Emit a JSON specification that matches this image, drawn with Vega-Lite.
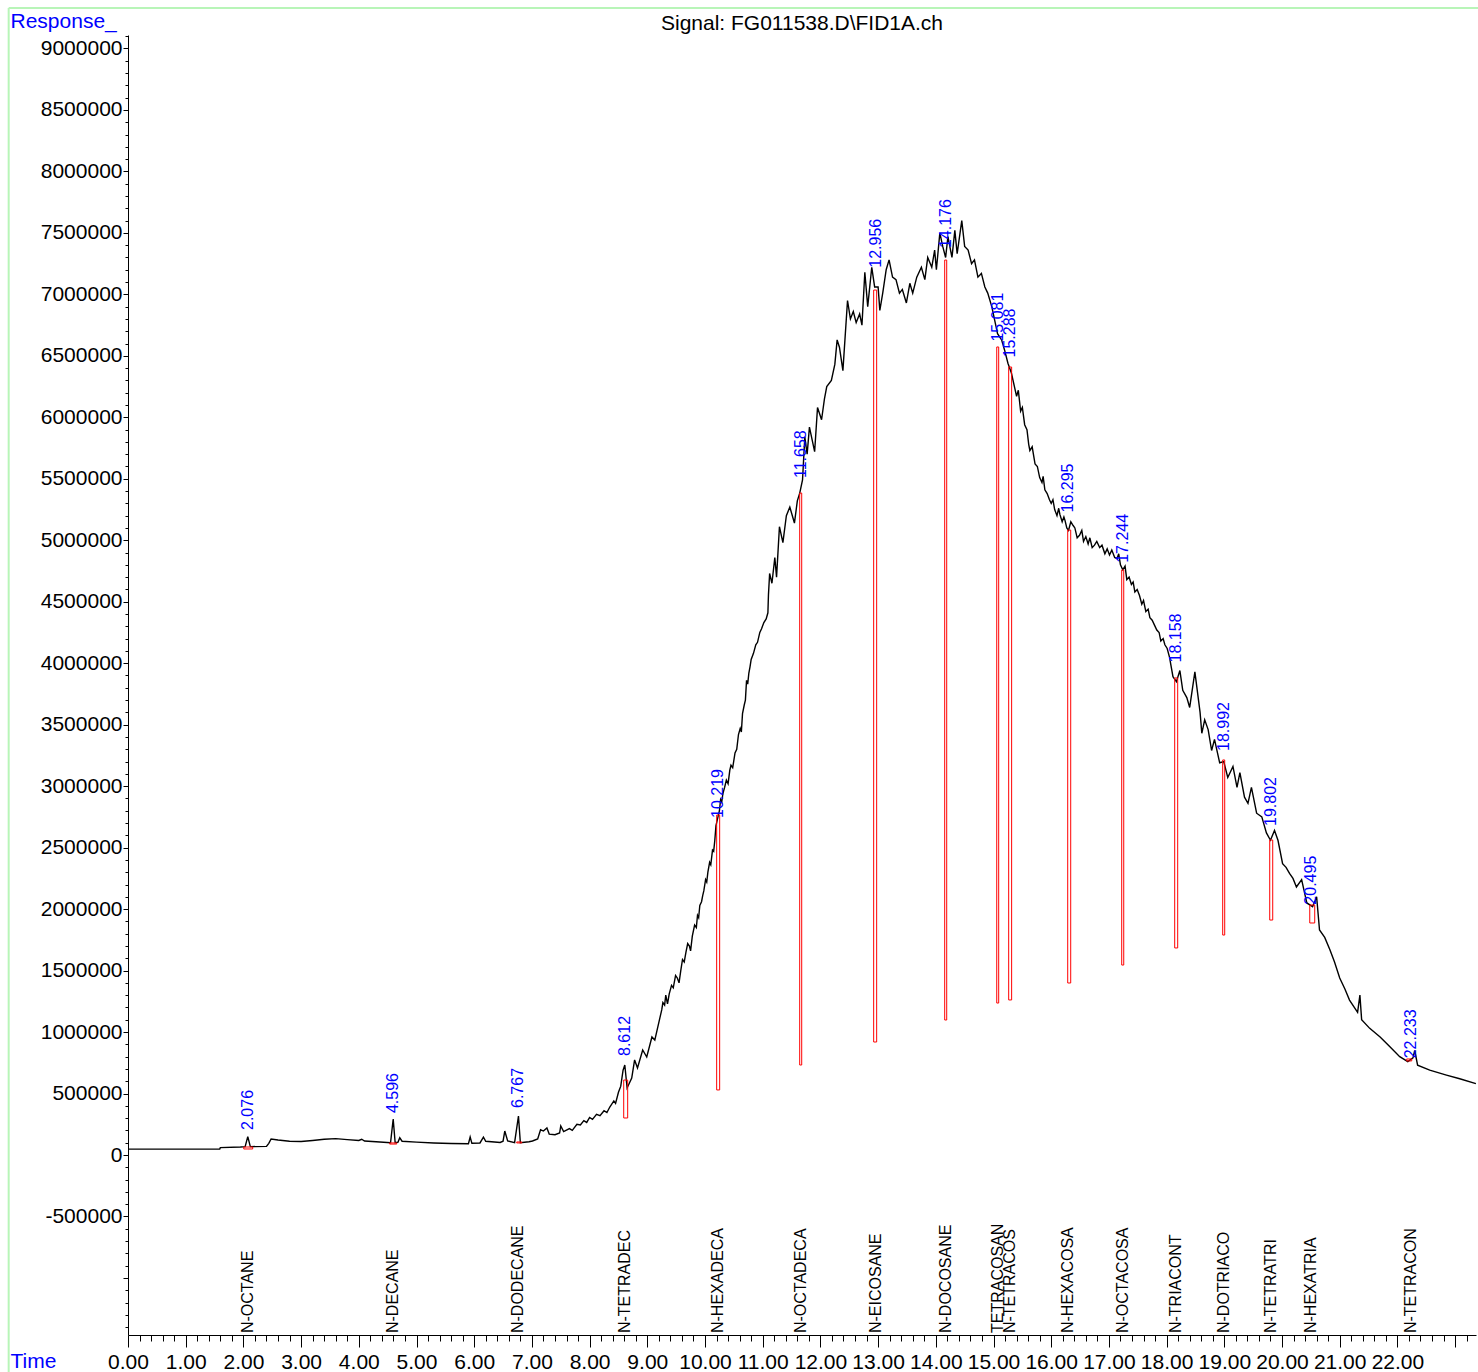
{
  "$schema": "https://vega.github.io/schema/vega-lite/v6.json",
  "width": 1348,
  "height": 1300,
  "autosize": {"type": "none"},
  "padding": {"left": 128, "top": 35, "right": 2, "bottom": 37},
  "background": "white",
  "config": {
    "view": {"stroke": null},
    "font": "Liberation Sans",
    "axis": {"labelOverlap": false, "labelFlush": false, "labelBound": false, "grid": false, "domainColor": "black", "tickColor": "black", "labelColor": "black", "labelFont": "Liberation Sans", "labelFontSize": 21, "titleFont": "Liberation Sans", "titleFontSize": 21, "titleFontWeight": "normal", "titleColor": "#0000ff", "titleAlign": "left", "titleBaseline": "alphabetic", "titleX": -118},
    "axisX": {"tickSize": 12, "labelPadding": 4, "titleY": 32},
    "axisY": {"tickSize": 5, "labelPadding": 1, "titleY": -7.5, "titleAngle": 0}
  },
  "datasets": {
    "signal": [
      {"t":0,"v":48000},{"t":1.59,"v":48000},{"t":1.6,"v":60000},{"t":1.95,"v":65000},{"t":2.03,"v":68000},{"t":2.076,"v":150000},{"t":2.12,"v":68000},{"t":2.4,"v":70000},{"t":2.44,"v":95000},{"t":2.48,"v":130000},{"t":2.6,"v":122000},{"t":2.8,"v":112000},{"t":3.0,"v":110000},{"t":3.2,"v":118000},{"t":3.4,"v":128000},{"t":3.6,"v":133000},{"t":3.8,"v":125000},{"t":4.0,"v":118000},{"t":4.05,"v":128000},{"t":4.1,"v":114000},{"t":4.3,"v":108000},{"t":4.55,"v":100000},{"t":4.596,"v":293000},{"t":4.63,"v":100000},{"t":4.68,"v":105000},{"t":4.71,"v":140000},{"t":4.75,"v":112000},{"t":5.0,"v":105000},{"t":5.3,"v":98000},{"t":5.6,"v":94000},{"t":5.9,"v":92000},{"t":5.93,"v":146000},{"t":5.96,"v":95000},{"t":6.1,"v":98000},{"t":6.16,"v":146000},{"t":6.2,"v":112000},{"t":6.45,"v":102000},{"t":6.5,"v":112000},{"t":6.53,"v":195000},{"t":6.58,"v":115000},{"t":6.7,"v":100000},{"t":6.767,"v":317000},{"t":6.8,"v":100000},{"t":6.95,"v":108000},{"t":7.01,"v":114000},{"t":7.1,"v":130000},{"t":7.15,"v":205000},{"t":7.2,"v":195000},{"t":7.26,"v":220000},{"t":7.3,"v":170000},{"t":7.4,"v":165000},{"t":7.48,"v":179000},{"t":7.5,"v":236000},{"t":7.55,"v":190000},{"t":7.65,"v":215000},{"t":7.7,"v":200000},{"t":7.78,"v":250000},{"t":7.84,"v":244000},{"t":7.9,"v":280000},{"t":7.95,"v":265000},{"t":8.0,"v":305000},{"t":8.05,"v":290000},{"t":8.12,"v":330000},{"t":8.18,"v":320000},{"t":8.25,"v":360000},{"t":8.3,"v":345000},{"t":8.35,"v":390000},{"t":8.42,"v":440000},{"t":8.45,"v":420000},{"t":8.5,"v":510000},{"t":8.54,"v":560000},{"t":8.58,"v":690000},{"t":8.61,"v":732000},{"t":8.65,"v":545000},{"t":8.73,"v":626000},{"t":8.78,"v":773000},{"t":8.83,"v":708000},{"t":8.92,"v":854000},{"t":8.99,"v":797000},{"t":9.08,"v":960000},{"t":9.13,"v":935000},{"t":9.22,"v":1120000},{"t":9.25,"v":1180000},{"t":9.27,"v":1240000},{"t":9.3,"v":1220000},{"t":9.32,"v":1300000},{"t":9.35,"v":1230000},{"t":9.38,"v":1310000},{"t":9.42,"v":1380000},{"t":9.45,"v":1360000},{"t":9.49,"v":1460000},{"t":9.52,"v":1440000},{"t":9.55,"v":1400000},{"t":9.58,"v":1500000},{"t":9.61,"v":1590000},{"t":9.64,"v":1570000},{"t":9.67,"v":1650000},{"t":9.7,"v":1720000},{"t":9.73,"v":1700000},{"t":9.75,"v":1660000},{"t":9.78,"v":1780000},{"t":9.82,"v":1870000},{"t":9.85,"v":1850000},{"t":9.87,"v":1950000},{"t":9.89,"v":1930000},{"t":9.91,"v":2030000},{"t":9.94,"v":2060000},{"t":9.96,"v":2110000},{"t":9.98,"v":2150000},{"t":10.01,"v":2240000},{"t":10.03,"v":2220000},{"t":10.05,"v":2300000},{"t":10.08,"v":2380000},{"t":10.1,"v":2360000},{"t":10.13,"v":2480000},{"t":10.15,"v":2470000},{"t":10.17,"v":2560000},{"t":10.19,"v":2680000},{"t":10.22,"v":2740000},{"t":10.25,"v":2800000},{"t":10.27,"v":2890000},{"t":10.29,"v":2870000},{"t":10.31,"v":2940000},{"t":10.34,"v":2990000},{"t":10.37,"v":3050000},{"t":10.4,"v":3020000},{"t":10.43,"v":3130000},{"t":10.45,"v":3170000},{"t":10.48,"v":3150000},{"t":10.52,"v":3270000},{"t":10.55,"v":3300000},{"t":10.58,"v":3420000},{"t":10.61,"v":3470000},{"t":10.63,"v":3440000},{"t":10.65,"v":3590000},{"t":10.68,"v":3660000},{"t":10.7,"v":3700000},{"t":10.72,"v":3860000},{"t":10.74,"v":3830000},{"t":10.76,"v":3920000},{"t":10.78,"v":3970000},{"t":10.8,"v":4030000},{"t":10.84,"v":4080000},{"t":10.88,"v":4150000},{"t":10.91,"v":4170000},{"t":10.95,"v":4250000},{"t":10.98,"v":4280000},{"t":11.02,"v":4330000},{"t":11.06,"v":4360000},{"t":11.09,"v":4410000},{"t":11.1,"v":4560000},{"t":11.12,"v":4730000},{"t":11.16,"v":4650000},{"t":11.21,"v":4860000},{"t":11.24,"v":4700000},{"t":11.29,"v":5110000},{"t":11.35,"v":4980000},{"t":11.41,"v":5200000},{"t":11.47,"v":5270000},{"t":11.55,"v":5140000},{"t":11.6,"v":5320000},{"t":11.64,"v":5380000},{"t":11.69,"v":5490000},{"t":11.73,"v":5840000},{"t":11.77,"v":5700000},{"t":11.81,"v":5920000},{"t":11.9,"v":5720000},{"t":11.95,"v":6080000},{"t":12.02,"v":5980000},{"t":12.07,"v":6150000},{"t":12.11,"v":6250000},{"t":12.19,"v":6300000},{"t":12.25,"v":6430000},{"t":12.29,"v":6630000},{"t":12.33,"v":6570000},{"t":12.39,"v":6380000},{"t":12.47,"v":6950000},{"t":12.52,"v":6800000},{"t":12.57,"v":6860000},{"t":12.62,"v":6770000},{"t":12.68,"v":6840000},{"t":12.72,"v":6750000},{"t":12.77,"v":7180000},{"t":12.82,"v":6900000},{"t":12.89,"v":7220000},{"t":12.94,"v":7060000},{"t":13.0,"v":7060000},{"t":13.03,"v":6870000},{"t":13.08,"v":7010000},{"t":13.14,"v":7200000},{"t":13.19,"v":7280000},{"t":13.25,"v":7140000},{"t":13.31,"v":7120000},{"t":13.37,"v":7010000},{"t":13.42,"v":7040000},{"t":13.49,"v":6930000},{"t":13.55,"v":7090000},{"t":13.6,"v":7010000},{"t":13.67,"v":7140000},{"t":13.75,"v":7220000},{"t":13.81,"v":7120000},{"t":13.86,"v":7300000},{"t":13.93,"v":7220000},{"t":13.98,"v":7360000},{"t":14.01,"v":7200000},{"t":14.07,"v":7500000},{"t":14.12,"v":7390000},{"t":14.17,"v":7300000},{"t":14.21,"v":7470000},{"t":14.28,"v":7300000},{"t":14.33,"v":7520000},{"t":14.37,"v":7330000},{"t":14.45,"v":7600000},{"t":14.5,"v":7390000},{"t":14.56,"v":7360000},{"t":14.62,"v":7250000},{"t":14.67,"v":7280000},{"t":14.73,"v":7140000},{"t":14.79,"v":7170000},{"t":14.85,"v":7060000},{"t":14.9,"v":7010000},{"t":14.97,"v":6900000},{"t":15.02,"v":6790000},{"t":15.07,"v":6680000},{"t":15.14,"v":6630000},{"t":15.19,"v":6550000},{"t":15.25,"v":6440000},{"t":15.31,"v":6360000},{"t":15.4,"v":6170000},{"t":15.43,"v":6220000},{"t":15.47,"v":6050000},{"t":15.5,"v":6080000},{"t":15.54,"v":5940000},{"t":15.58,"v":5900000},{"t":15.61,"v":5780000},{"t":15.63,"v":5730000},{"t":15.67,"v":5760000},{"t":15.72,"v":5620000},{"t":15.76,"v":5600000},{"t":15.8,"v":5510000},{"t":15.84,"v":5470000},{"t":15.86,"v":5520000},{"t":15.89,"v":5410000},{"t":15.93,"v":5380000},{"t":15.97,"v":5330000},{"t":16.0,"v":5300000},{"t":16.03,"v":5330000},{"t":16.06,"v":5250000},{"t":16.1,"v":5200000},{"t":16.13,"v":5260000},{"t":16.15,"v":5210000},{"t":16.19,"v":5150000},{"t":16.22,"v":5190000},{"t":16.24,"v":5160000},{"t":16.27,"v":5100000},{"t":16.3,"v":5080000},{"t":16.34,"v":5150000},{"t":16.38,"v":5120000},{"t":16.41,"v":5100000},{"t":16.45,"v":5020000},{"t":16.49,"v":5040000},{"t":16.53,"v":5080000},{"t":16.56,"v":4990000},{"t":16.6,"v":5030000},{"t":16.64,"v":4970000},{"t":16.67,"v":5020000},{"t":16.71,"v":4940000},{"t":16.75,"v":4960000},{"t":16.79,"v":4990000},{"t":16.84,"v":4940000},{"t":16.88,"v":4960000},{"t":16.93,"v":4890000},{"t":16.97,"v":4930000},{"t":17.01,"v":4880000},{"t":17.05,"v":4920000},{"t":17.1,"v":4860000},{"t":17.14,"v":4850000},{"t":17.17,"v":4890000},{"t":17.2,"v":4800000},{"t":17.24,"v":4760000},{"t":17.28,"v":4790000},{"t":17.31,"v":4680000},{"t":17.35,"v":4700000},{"t":17.39,"v":4640000},{"t":17.42,"v":4660000},{"t":17.45,"v":4580000},{"t":17.49,"v":4600000},{"t":17.53,"v":4550000},{"t":17.57,"v":4480000},{"t":17.6,"v":4510000},{"t":17.64,"v":4420000},{"t":17.68,"v":4440000},{"t":17.71,"v":4370000},{"t":17.75,"v":4350000},{"t":17.79,"v":4310000},{"t":17.83,"v":4270000},{"t":17.87,"v":4250000},{"t":17.9,"v":4180000},{"t":17.94,"v":4200000},{"t":17.97,"v":4150000},{"t":18.01,"v":4120000},{"t":18.05,"v":4050000},{"t":18.11,"v":3890000},{"t":18.17,"v":3850000},{"t":18.23,"v":3940000},{"t":18.28,"v":3780000},{"t":18.35,"v":3720000},{"t":18.4,"v":3640000},{"t":18.49,"v":3930000},{"t":18.58,"v":3600000},{"t":18.61,"v":3430000},{"t":18.66,"v":3540000},{"t":18.72,"v":3460000},{"t":18.78,"v":3290000},{"t":18.83,"v":3380000},{"t":18.92,"v":3190000},{"t":18.99,"v":3200000},{"t":19.06,"v":3070000},{"t":19.15,"v":3160000},{"t":19.22,"v":2990000},{"t":19.27,"v":3110000},{"t":19.35,"v":2910000},{"t":19.41,"v":2860000},{"t":19.47,"v":2990000},{"t":19.56,"v":2780000},{"t":19.65,"v":2750000},{"t":19.73,"v":2620000},{"t":19.8,"v":2560000},{"t":19.87,"v":2640000},{"t":19.93,"v":2560000},{"t":20.01,"v":2370000},{"t":20.07,"v":2340000},{"t":20.13,"v":2290000},{"t":20.19,"v":2250000},{"t":20.25,"v":2180000},{"t":20.34,"v":2240000},{"t":20.43,"v":2050000},{"t":20.53,"v":2020000},{"t":20.6,"v":2100000},{"t":20.65,"v":1830000},{"t":20.74,"v":1770000},{"t":20.83,"v":1670000},{"t":20.91,"v":1570000},{"t":21.0,"v":1440000},{"t":21.09,"v":1350000},{"t":21.17,"v":1260000},{"t":21.31,"v":1160000},{"t":21.35,"v":1300000},{"t":21.38,"v":1100000},{"t":21.52,"v":1030000},{"t":21.7,"v":960000},{"t":21.87,"v":880000},{"t":22.04,"v":800000},{"t":22.18,"v":760000},{"t":22.27,"v":790000},{"t":22.3,"v":850000},{"t":22.35,"v":730000},{"t":22.56,"v":690000},{"t":22.85,"v":650000},{"t":23.08,"v":620000},{"t":23.36,"v":580000}
    ],
    "peaks": [
      {"rt":2.076,"name":"N-OCTANE","apex":187000,"t0":2.006,"t1":2.161,"top":65000,"base":49000},
      {"rt":4.596,"name":"N-DECANE","apex":325000,"t0":4.534,"t1":4.657,"top":98000,"base":89000},
      {"rt":6.767,"name":"N-DODECANE","apex":366000,"t0":6.737,"t1":6.823,"top":106000,"base":98000},
      {"rt":8.612,"name":"N-TETRADEC","apex":789000,"t0":8.591,"t1":8.66,"top":610000,"base":301000},
      {"rt":10.219,"name":"N-HEXADECA","apex":2725000,"t0":10.202,"t1":10.254,"top":2765000,"base":529000},
      {"rt":11.658,"name":"N-OCTADECA","apex":5490000,"t0":11.641,"t1":11.676,"top":5384000,"base":732000},
      {"rt":12.956,"name":"N-EICOSANE","apex":7200000,"t0":12.923,"t1":12.975,"top":7035000,"base":919000},
      {"rt":14.176,"name":"N-DOCOSANE","apex":7360000,"t0":14.154,"t1":14.189,"top":7279000,"base":1098000},
      {"rt":15.081,"name":"TETRACOSAN","apex":6600000,"t0":15.056,"t1":15.09,"top":6572000,"base":1236000},
      {"rt":15.288,"name":"N-TETRACOS","apex":6470000,"t0":15.263,"t1":15.314,"top":6409000,"base":1261000},
      {"rt":16.295,"name":"N-HEXACOSA","apex":5210000,"t0":16.286,"t1":16.338,"top":5083000,"base":1399000},
      {"rt":17.244,"name":"N-OCTACOSA","apex":4800000,"t0":17.222,"t1":17.257,"top":4758000,"base":1545000},
      {"rt":18.158,"name":"N-TRIACONT","apex":3990000,"t0":18.14,"t1":18.192,"top":3880000,"base":1684000},
      {"rt":18.992,"name":"N-DOTRIACO","apex":3270000,"t0":18.972,"t1":19.007,"top":3213000,"base":1789000},
      {"rt":19.802,"name":"N-TETRATRI","apex":2660000,"t0":19.787,"t1":19.839,"top":2562000,"base":1911000},
      {"rt":20.495,"name":"N-HEXATRIA","apex":2020000,"t0":20.481,"t1":20.567,"top":2033000,"base":1887000},
      {"rt":22.233,"name":"N-TETRACON","apex":770000,"t0":22.161,"t1":22.248,"top":781000,"base":765000}
    ]
  },
  "layer": [
    {
      "data": {"values": [{}]},
      "mark": {"type": "rule", "color": "#b8f5b8", "strokeWidth": 2, "clip": false},
      "encoding": {
        "x": {"datum": -2.068, "type": "quantitative", "scale": {"domain": [0, 23.362], "nice": false, "zero": false},
          "axis": {"values": [0,0.2,0.4,0.6,0.8,1,1.2,1.4,1.6,1.8,2,2.2,2.4,2.6,2.8,3,3.2,3.4,3.6,3.8,4,4.2,4.4,4.6,4.8,5,5.2,5.4,5.6,5.8,6,6.2,6.4,6.6,6.8,7,7.2,7.4,7.6,7.8,8,8.2,8.4,8.6,8.8,9,9.2,9.4,9.6,9.8,10,10.2,10.4,10.6,10.8,11,11.2,11.4,11.6,11.8,12,12.2,12.4,12.6,12.8,13,13.2,13.4,13.6,13.8,14,14.2,14.4,14.6,14.8,15,15.2,15.4,15.6,15.8,16,16.2,16.4,16.6,16.8,17,17.2,17.4,17.6,17.8,18,18.2,18.4,18.6,18.8,19,19.2,19.4,19.6,19.8,20,20.2,20.4,20.6,20.8,21,21.2,21.4,21.6,21.8,22,22.2,22.4,22.6,22.8,23,23.2], "labelExpr": "abs(datum.value - round(datum.value)) < 0.01 && datum.value < 22.5 ? format(datum.value, '.2f') : ''", "tickDash": {"condition": {"test": "abs(datum.value - round(datum.value)) < 0.01", "value": []}, "value": [6, 40]}, "labelOverlap": false, "title": "Time"}},
        "x2": {"datum": 23.5},
        "y": {"datum": 9329000, "type": "quantitative", "scale": {"domain": [-1464000, 9109400], "nice": false, "zero": false},
          "axis": {"values": [-1400000,-1300000,-1200000,-1100000,-1000000,-900000,-800000,-700000,-600000,-500000,-400000,-300000,-200000,-100000,0,100000,200000,300000,400000,500000,600000,700000,800000,900000,1000000,1100000,1200000,1300000,1400000,1500000,1600000,1700000,1800000,1900000,2000000,2100000,2200000,2300000,2400000,2500000,2600000,2700000,2800000,2900000,3000000,3100000,3200000,3300000,3400000,3500000,3600000,3700000,3800000,3900000,4000000,4100000,4200000,4300000,4400000,4500000,4600000,4700000,4800000,4900000,5000000,5100000,5200000,5300000,5400000,5500000,5600000,5700000,5800000,5900000,6000000,6100000,6200000,6300000,6400000,6500000,6600000,6700000,6800000,6900000,7000000,7100000,7200000,7300000,7400000,7500000,7600000,7700000,7800000,7900000,8000000,8100000,8200000,8300000,8400000,8500000,8600000,8700000,8800000,8900000,9000000,9100000], "labelExpr": "datum.value % 500000 === 0 && datum.value >= -500000 ? '' + datum.value : ''", "tickDash": {"condition": {"test": "datum.value % 500000 === 0", "value": []}, "value": [3, 40]}, "labelOverlap": false, "title": "Response_"}}
      }
    },
    {
      "data": {"values": [{}]},
      "mark": {"type": "rule", "color": "#b8f5b8", "strokeWidth": 2, "clip": false},
      "encoding": {
        "x": {"datum": -2.068, "type": "quantitative", "scale": {"domain": [0, 23.362], "nice": false, "zero": false},
          "axis": {"values": [0,0.2,0.4,0.6,0.8,1,1.2,1.4,1.6,1.8,2,2.2,2.4,2.6,2.8,3,3.2,3.4,3.6,3.8,4,4.2,4.4,4.6,4.8,5,5.2,5.4,5.6,5.8,6,6.2,6.4,6.6,6.8,7,7.2,7.4,7.6,7.8,8,8.2,8.4,8.6,8.8,9,9.2,9.4,9.6,9.8,10,10.2,10.4,10.6,10.8,11,11.2,11.4,11.6,11.8,12,12.2,12.4,12.6,12.8,13,13.2,13.4,13.6,13.8,14,14.2,14.4,14.6,14.8,15,15.2,15.4,15.6,15.8,16,16.2,16.4,16.6,16.8,17,17.2,17.4,17.6,17.8,18,18.2,18.4,18.6,18.8,19,19.2,19.4,19.6,19.8,20,20.2,20.4,20.6,20.8,21,21.2,21.4,21.6,21.8,22,22.2,22.4,22.6,22.8,23,23.2], "labelExpr": "abs(datum.value - round(datum.value)) < 0.01 && datum.value < 22.5 ? format(datum.value, '.2f') : ''", "tickDash": {"condition": {"test": "abs(datum.value - round(datum.value)) < 0.01", "value": []}, "value": [6, 40]}, "labelOverlap": false, "title": "Time"}},
        "y": {"datum": 9329000, "type": "quantitative", "scale": {"domain": [-1464000, 9109400], "nice": false, "zero": false},
          "axis": {"values": [-1400000,-1300000,-1200000,-1100000,-1000000,-900000,-800000,-700000,-600000,-500000,-400000,-300000,-200000,-100000,0,100000,200000,300000,400000,500000,600000,700000,800000,900000,1000000,1100000,1200000,1300000,1400000,1500000,1600000,1700000,1800000,1900000,2000000,2100000,2200000,2300000,2400000,2500000,2600000,2700000,2800000,2900000,3000000,3100000,3200000,3300000,3400000,3500000,3600000,3700000,3800000,3900000,4000000,4100000,4200000,4300000,4400000,4500000,4600000,4700000,4800000,4900000,5000000,5100000,5200000,5300000,5400000,5500000,5600000,5700000,5800000,5900000,6000000,6100000,6200000,6300000,6400000,6500000,6600000,6700000,6800000,6900000,7000000,7100000,7200000,7300000,7400000,7500000,7600000,7700000,7800000,7900000,8000000,8100000,8200000,8300000,8400000,8500000,8600000,8700000,8800000,8900000,9000000,9100000], "labelExpr": "datum.value % 500000 === 0 && datum.value >= -500000 ? '' + datum.value : ''", "tickDash": {"condition": {"test": "datum.value % 500000 === 0", "value": []}, "value": [3, 40]}, "labelOverlap": false, "title": "Response_"}},
        "y2": {"datum": -1800000}
      }
    },
    {
      "data": {"values": [{}]},
      "mark": {"type": "text", "align": "center", "baseline": "alphabetic", "fontSize": 21, "color": "black", "font": "Liberation Sans", "clip": false},
      "encoding": {
        "x": {"datum": 11.681, "type": "quantitative", "scale": {"domain": [0, 23.362], "nice": false, "zero": false},
          "axis": {"values": [0,0.2,0.4,0.6,0.8,1,1.2,1.4,1.6,1.8,2,2.2,2.4,2.6,2.8,3,3.2,3.4,3.6,3.8,4,4.2,4.4,4.6,4.8,5,5.2,5.4,5.6,5.8,6,6.2,6.4,6.6,6.8,7,7.2,7.4,7.6,7.8,8,8.2,8.4,8.6,8.8,9,9.2,9.4,9.6,9.8,10,10.2,10.4,10.6,10.8,11,11.2,11.4,11.6,11.8,12,12.2,12.4,12.6,12.8,13,13.2,13.4,13.6,13.8,14,14.2,14.4,14.6,14.8,15,15.2,15.4,15.6,15.8,16,16.2,16.4,16.6,16.8,17,17.2,17.4,17.6,17.8,18,18.2,18.4,18.6,18.8,19,19.2,19.4,19.6,19.8,20,20.2,20.4,20.6,20.8,21,21.2,21.4,21.6,21.8,22,22.2,22.4,22.6,22.8,23,23.2], "labelExpr": "abs(datum.value - round(datum.value)) < 0.01 && datum.value < 22.5 ? format(datum.value, '.2f') : ''", "tickDash": {"condition": {"test": "abs(datum.value - round(datum.value)) < 0.01", "value": []}, "value": [6, 40]}, "labelOverlap": false, "title": "Time"}},
        "y": {"datum": 9150000, "type": "quantitative", "scale": {"domain": [-1464000, 9109400], "nice": false, "zero": false},
          "axis": {"values": [-1400000,-1300000,-1200000,-1100000,-1000000,-900000,-800000,-700000,-600000,-500000,-400000,-300000,-200000,-100000,0,100000,200000,300000,400000,500000,600000,700000,800000,900000,1000000,1100000,1200000,1300000,1400000,1500000,1600000,1700000,1800000,1900000,2000000,2100000,2200000,2300000,2400000,2500000,2600000,2700000,2800000,2900000,3000000,3100000,3200000,3300000,3400000,3500000,3600000,3700000,3800000,3900000,4000000,4100000,4200000,4300000,4400000,4500000,4600000,4700000,4800000,4900000,5000000,5100000,5200000,5300000,5400000,5500000,5600000,5700000,5800000,5900000,6000000,6100000,6200000,6300000,6400000,6500000,6600000,6700000,6800000,6900000,7000000,7100000,7200000,7300000,7400000,7500000,7600000,7700000,7800000,7900000,8000000,8100000,8200000,8300000,8400000,8500000,8600000,8700000,8800000,8900000,9000000,9100000], "labelExpr": "datum.value % 500000 === 0 && datum.value >= -500000 ? '' + datum.value : ''", "tickDash": {"condition": {"test": "datum.value % 500000 === 0", "value": []}, "value": [3, 40]}, "labelOverlap": false, "title": "Response_"}},
        "text": {"value": "Signal: FG011538.D\\FID1A.ch"}
      }
    },
    {
      "data": {"name": "signal"},
      "mark": {"type": "line", "color": "black", "strokeWidth": 1.4},
      "encoding": {
        "x": {"field": "t", "type": "quantitative", "scale": {"domain": [0, 23.362], "nice": false, "zero": false},
          "axis": {"values": [0,0.2,0.4,0.6,0.8,1,1.2,1.4,1.6,1.8,2,2.2,2.4,2.6,2.8,3,3.2,3.4,3.6,3.8,4,4.2,4.4,4.6,4.8,5,5.2,5.4,5.6,5.8,6,6.2,6.4,6.6,6.8,7,7.2,7.4,7.6,7.8,8,8.2,8.4,8.6,8.8,9,9.2,9.4,9.6,9.8,10,10.2,10.4,10.6,10.8,11,11.2,11.4,11.6,11.8,12,12.2,12.4,12.6,12.8,13,13.2,13.4,13.6,13.8,14,14.2,14.4,14.6,14.8,15,15.2,15.4,15.6,15.8,16,16.2,16.4,16.6,16.8,17,17.2,17.4,17.6,17.8,18,18.2,18.4,18.6,18.8,19,19.2,19.4,19.6,19.8,20,20.2,20.4,20.6,20.8,21,21.2,21.4,21.6,21.8,22,22.2,22.4,22.6,22.8,23,23.2], "labelExpr": "abs(datum.value - round(datum.value)) < 0.01 && datum.value < 22.5 ? format(datum.value, '.2f') : ''", "tickDash": {"condition": {"test": "abs(datum.value - round(datum.value)) < 0.01", "value": []}, "value": [6, 40]}, "labelOverlap": false, "title": "Time"}},
        "y": {"field": "v", "type": "quantitative", "scale": {"domain": [-1464000, 9109400], "nice": false, "zero": false},
          "axis": {"values": [-1400000,-1300000,-1200000,-1100000,-1000000,-900000,-800000,-700000,-600000,-500000,-400000,-300000,-200000,-100000,0,100000,200000,300000,400000,500000,600000,700000,800000,900000,1000000,1100000,1200000,1300000,1400000,1500000,1600000,1700000,1800000,1900000,2000000,2100000,2200000,2300000,2400000,2500000,2600000,2700000,2800000,2900000,3000000,3100000,3200000,3300000,3400000,3500000,3600000,3700000,3800000,3900000,4000000,4100000,4200000,4300000,4400000,4500000,4600000,4700000,4800000,4900000,5000000,5100000,5200000,5300000,5400000,5500000,5600000,5700000,5800000,5900000,6000000,6100000,6200000,6300000,6400000,6500000,6600000,6700000,6800000,6900000,7000000,7100000,7200000,7300000,7400000,7500000,7600000,7700000,7800000,7900000,8000000,8100000,8200000,8300000,8400000,8500000,8600000,8700000,8800000,8900000,9000000,9100000], "labelExpr": "datum.value % 500000 === 0 && datum.value >= -500000 ? '' + datum.value : ''", "tickDash": {"condition": {"test": "datum.value % 500000 === 0", "value": []}, "value": [3, 40]}, "labelOverlap": false, "title": "Response_"}}
      }
    },
    {
      "data": {"name": "peaks"},
      "mark": {"type": "rect", "filled": false, "color": "#ff0000", "strokeWidth": 1},
      "encoding": {
        "x": {"field": "t0", "type": "quantitative", "scale": {"domain": [0, 23.362], "nice": false, "zero": false},
          "axis": {"values": [0,0.2,0.4,0.6,0.8,1,1.2,1.4,1.6,1.8,2,2.2,2.4,2.6,2.8,3,3.2,3.4,3.6,3.8,4,4.2,4.4,4.6,4.8,5,5.2,5.4,5.6,5.8,6,6.2,6.4,6.6,6.8,7,7.2,7.4,7.6,7.8,8,8.2,8.4,8.6,8.8,9,9.2,9.4,9.6,9.8,10,10.2,10.4,10.6,10.8,11,11.2,11.4,11.6,11.8,12,12.2,12.4,12.6,12.8,13,13.2,13.4,13.6,13.8,14,14.2,14.4,14.6,14.8,15,15.2,15.4,15.6,15.8,16,16.2,16.4,16.6,16.8,17,17.2,17.4,17.6,17.8,18,18.2,18.4,18.6,18.8,19,19.2,19.4,19.6,19.8,20,20.2,20.4,20.6,20.8,21,21.2,21.4,21.6,21.8,22,22.2,22.4,22.6,22.8,23,23.2], "labelExpr": "abs(datum.value - round(datum.value)) < 0.01 && datum.value < 22.5 ? format(datum.value, '.2f') : ''", "tickDash": {"condition": {"test": "abs(datum.value - round(datum.value)) < 0.01", "value": []}, "value": [6, 40]}, "labelOverlap": false, "title": "Time"}},
        "x2": {"field": "t1"},
        "y": {"field": "top", "type": "quantitative", "scale": {"domain": [-1464000, 9109400], "nice": false, "zero": false},
          "axis": {"values": [-1400000,-1300000,-1200000,-1100000,-1000000,-900000,-800000,-700000,-600000,-500000,-400000,-300000,-200000,-100000,0,100000,200000,300000,400000,500000,600000,700000,800000,900000,1000000,1100000,1200000,1300000,1400000,1500000,1600000,1700000,1800000,1900000,2000000,2100000,2200000,2300000,2400000,2500000,2600000,2700000,2800000,2900000,3000000,3100000,3200000,3300000,3400000,3500000,3600000,3700000,3800000,3900000,4000000,4100000,4200000,4300000,4400000,4500000,4600000,4700000,4800000,4900000,5000000,5100000,5200000,5300000,5400000,5500000,5600000,5700000,5800000,5900000,6000000,6100000,6200000,6300000,6400000,6500000,6600000,6700000,6800000,6900000,7000000,7100000,7200000,7300000,7400000,7500000,7600000,7700000,7800000,7900000,8000000,8100000,8200000,8300000,8400000,8500000,8600000,8700000,8800000,8900000,9000000,9100000], "labelExpr": "datum.value % 500000 === 0 && datum.value >= -500000 ? '' + datum.value : ''", "tickDash": {"condition": {"test": "datum.value % 500000 === 0", "value": []}, "value": [3, 40]}, "labelOverlap": false, "title": "Response_"}},
        "y2": {"field": "base"}
      }
    },
    {
      "data": {"name": "peaks"},
      "mark": {"type": "text", "angle": 270, "align": "left", "baseline": "middle", "color": "#0000ff", "fontSize": 16, "dx": 2, "font": "Liberation Sans"},
      "encoding": {
        "x": {"field": "rt", "type": "quantitative", "scale": {"domain": [0, 23.362], "nice": false, "zero": false},
          "axis": {"values": [0,0.2,0.4,0.6,0.8,1,1.2,1.4,1.6,1.8,2,2.2,2.4,2.6,2.8,3,3.2,3.4,3.6,3.8,4,4.2,4.4,4.6,4.8,5,5.2,5.4,5.6,5.8,6,6.2,6.4,6.6,6.8,7,7.2,7.4,7.6,7.8,8,8.2,8.4,8.6,8.8,9,9.2,9.4,9.6,9.8,10,10.2,10.4,10.6,10.8,11,11.2,11.4,11.6,11.8,12,12.2,12.4,12.6,12.8,13,13.2,13.4,13.6,13.8,14,14.2,14.4,14.6,14.8,15,15.2,15.4,15.6,15.8,16,16.2,16.4,16.6,16.8,17,17.2,17.4,17.6,17.8,18,18.2,18.4,18.6,18.8,19,19.2,19.4,19.6,19.8,20,20.2,20.4,20.6,20.8,21,21.2,21.4,21.6,21.8,22,22.2,22.4,22.6,22.8,23,23.2], "labelExpr": "abs(datum.value - round(datum.value)) < 0.01 && datum.value < 22.5 ? format(datum.value, '.2f') : ''", "tickDash": {"condition": {"test": "abs(datum.value - round(datum.value)) < 0.01", "value": []}, "value": [6, 40]}, "labelOverlap": false, "title": "Time"}},
        "y": {"field": "apex", "type": "quantitative", "scale": {"domain": [-1464000, 9109400], "nice": false, "zero": false},
          "axis": {"values": [-1400000,-1300000,-1200000,-1100000,-1000000,-900000,-800000,-700000,-600000,-500000,-400000,-300000,-200000,-100000,0,100000,200000,300000,400000,500000,600000,700000,800000,900000,1000000,1100000,1200000,1300000,1400000,1500000,1600000,1700000,1800000,1900000,2000000,2100000,2200000,2300000,2400000,2500000,2600000,2700000,2800000,2900000,3000000,3100000,3200000,3300000,3400000,3500000,3600000,3700000,3800000,3900000,4000000,4100000,4200000,4300000,4400000,4500000,4600000,4700000,4800000,4900000,5000000,5100000,5200000,5300000,5400000,5500000,5600000,5700000,5800000,5900000,6000000,6100000,6200000,6300000,6400000,6500000,6600000,6700000,6800000,6900000,7000000,7100000,7200000,7300000,7400000,7500000,7600000,7700000,7800000,7900000,8000000,8100000,8200000,8300000,8400000,8500000,8600000,8700000,8800000,8900000,9000000,9100000], "labelExpr": "datum.value % 500000 === 0 && datum.value >= -500000 ? '' + datum.value : ''", "tickDash": {"condition": {"test": "datum.value % 500000 === 0", "value": []}, "value": [3, 40]}, "labelOverlap": false, "title": "Response_"}},
        "text": {"field": "rt", "type": "quantitative", "format": ".3f"}
      }
    },
    {
      "data": {"name": "peaks"},
      "mark": {"type": "text", "angle": 270, "align": "left", "baseline": "middle", "color": "black", "fontSize": 16, "font": "Liberation Sans"},
      "encoding": {
        "x": {"field": "rt", "type": "quantitative", "scale": {"domain": [0, 23.362], "nice": false, "zero": false},
          "axis": {"values": [0,0.2,0.4,0.6,0.8,1,1.2,1.4,1.6,1.8,2,2.2,2.4,2.6,2.8,3,3.2,3.4,3.6,3.8,4,4.2,4.4,4.6,4.8,5,5.2,5.4,5.6,5.8,6,6.2,6.4,6.6,6.8,7,7.2,7.4,7.6,7.8,8,8.2,8.4,8.6,8.8,9,9.2,9.4,9.6,9.8,10,10.2,10.4,10.6,10.8,11,11.2,11.4,11.6,11.8,12,12.2,12.4,12.6,12.8,13,13.2,13.4,13.6,13.8,14,14.2,14.4,14.6,14.8,15,15.2,15.4,15.6,15.8,16,16.2,16.4,16.6,16.8,17,17.2,17.4,17.6,17.8,18,18.2,18.4,18.6,18.8,19,19.2,19.4,19.6,19.8,20,20.2,20.4,20.6,20.8,21,21.2,21.4,21.6,21.8,22,22.2,22.4,22.6,22.8,23,23.2], "labelExpr": "abs(datum.value - round(datum.value)) < 0.01 && datum.value < 22.5 ? format(datum.value, '.2f') : ''", "tickDash": {"condition": {"test": "abs(datum.value - round(datum.value)) < 0.01", "value": []}, "value": [6, 40]}, "labelOverlap": false, "title": "Time"}},
        "y": {"datum": -1448000, "type": "quantitative", "scale": {"domain": [-1464000, 9109400], "nice": false, "zero": false},
          "axis": {"values": [-1400000,-1300000,-1200000,-1100000,-1000000,-900000,-800000,-700000,-600000,-500000,-400000,-300000,-200000,-100000,0,100000,200000,300000,400000,500000,600000,700000,800000,900000,1000000,1100000,1200000,1300000,1400000,1500000,1600000,1700000,1800000,1900000,2000000,2100000,2200000,2300000,2400000,2500000,2600000,2700000,2800000,2900000,3000000,3100000,3200000,3300000,3400000,3500000,3600000,3700000,3800000,3900000,4000000,4100000,4200000,4300000,4400000,4500000,4600000,4700000,4800000,4900000,5000000,5100000,5200000,5300000,5400000,5500000,5600000,5700000,5800000,5900000,6000000,6100000,6200000,6300000,6400000,6500000,6600000,6700000,6800000,6900000,7000000,7100000,7200000,7300000,7400000,7500000,7600000,7700000,7800000,7900000,8000000,8100000,8200000,8300000,8400000,8500000,8600000,8700000,8800000,8900000,9000000,9100000], "labelExpr": "datum.value % 500000 === 0 && datum.value >= -500000 ? '' + datum.value : ''", "tickDash": {"condition": {"test": "datum.value % 500000 === 0", "value": []}, "value": [3, 40]}, "labelOverlap": false, "title": "Response_"}},
        "text": {"field": "name", "type": "nominal"}
      }
    }
  ]
}
